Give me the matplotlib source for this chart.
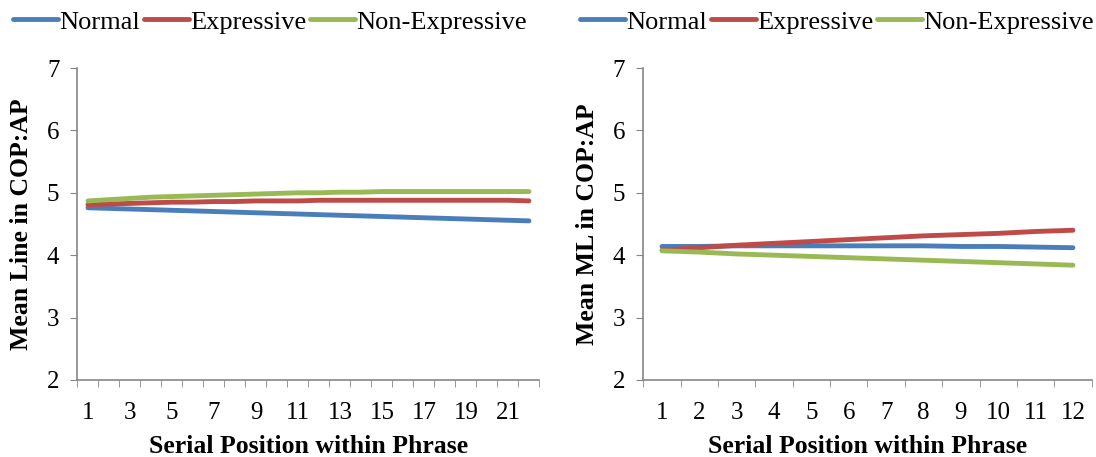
import numpy as np
import matplotlib
matplotlib.use("Agg")
import matplotlib.pyplot as plt
from matplotlib.ticker import FixedLocator

plt.rcParams['font.family'] = ['Liberation Serif', 'DejaVu Serif']

# left panel: 22 serial positions
pos_line = np.arange(1, 23)
normal_line = [4.76, 4.75, 4.74, 4.73, 4.72, 4.71, 4.70, 4.69, 4.68, 4.67, 4.66,
               4.65, 4.64, 4.63, 4.62, 4.61, 4.60, 4.59, 4.58, 4.57, 4.56, 4.55]
expr_line = [4.81, 4.82, 4.83, 4.84, 4.85, 4.85, 4.86, 4.86, 4.87, 4.87, 4.87,
             4.88, 4.88, 4.88, 4.88, 4.88, 4.88, 4.88, 4.88, 4.88, 4.88, 4.87]
nonexpr_line = [4.87, 4.89, 4.91, 4.93, 4.94, 4.95, 4.96, 4.97, 4.98, 4.99, 5.00,
                5.00, 5.01, 5.01, 5.02, 5.02, 5.02, 5.02, 5.02, 5.02, 5.02, 5.02]

# right panel: 12 serial positions
pos_ml = np.arange(1, 13)
normal_ml = [4.14, 4.14, 4.15, 4.15, 4.15, 4.15, 4.15, 4.15, 4.14, 4.14, 4.13, 4.12]
expr_ml = [4.08, 4.12, 4.16, 4.19, 4.22, 4.25, 4.28, 4.31, 4.33, 4.35, 4.38, 4.40]
nonexpr_ml = [4.07, 4.05, 4.02, 4.00, 3.98, 3.96, 3.94, 3.92, 3.90, 3.88, 3.86, 3.84]

series_names = ['Normal', 'Expressive', 'Non-Expressive']
colors = ['#4a7ebb', '#be4b48', '#98b954']

fig = plt.figure(figsize=(10.96, 4.57), dpi=100)
ax1 = fig.add_axes([0.0707, 0.1685, 0.4215, 0.6827])
ax2 = fig.add_axes([0.587, 0.1685, 0.409, 0.6827])


def style(ax, x, ys, ylabel, label_step, legend_x):
    for y, c, n in zip(ys, colors, series_names):
        ax.plot(x, y, color=c, lw=3.5, label=n, solid_capstyle='round')
    n = len(x)
    ax.set_xlim(0.5, n + 0.5)
    ax.set_ylim(2, 7)
    ax.set_yticks(range(2, 8))
    ax.set_xticks(x[::label_step])
    ax.set_xticklabels([str(v) for v in x[::label_step]])
    ax.xaxis.set_minor_locator(FixedLocator(np.arange(0.5, n + 1, 1)))
    ax.tick_params(axis='x', which='major', length=0, labelsize=18, pad=16)
    ax.tick_params(axis='x', which='minor', length=5, color='#868686')
    ax.tick_params(axis='y', length=5, color='#868686', labelsize=18, pad=8)
    for s in ['top', 'right']:
        ax.spines[s].set_visible(False)
    for s in ['left', 'bottom']:
        ax.spines[s].set_color('#868686')
        ax.spines[s].set_linewidth(1.2)
    ax.set_xlabel('Serial Position within Phrase', fontsize=18.5, fontweight='bold', labelpad=8)
    ax.set_ylabel(ylabel, fontsize=18.5, fontweight='bold', labelpad=10)
    ax.legend(loc='center left', bbox_to_anchor=(legend_x, 0.952),
              bbox_transform=fig.transFigure, ncol=3, frameon=False,
              fontsize=19, handlelength=1.7, handletextpad=0.05, columnspacing=0.15,
              borderaxespad=0, borderpad=0)


style(ax1, pos_line, [normal_line, expr_line, nonexpr_line], 'Mean Line in COP:AP', 2, 0.0119)
style(ax2, pos_ml, [normal_ml, expr_ml, nonexpr_ml], 'Mean ML in COP:AP', 1, 0.529)

fig.savefig('out.png', dpi=100)
